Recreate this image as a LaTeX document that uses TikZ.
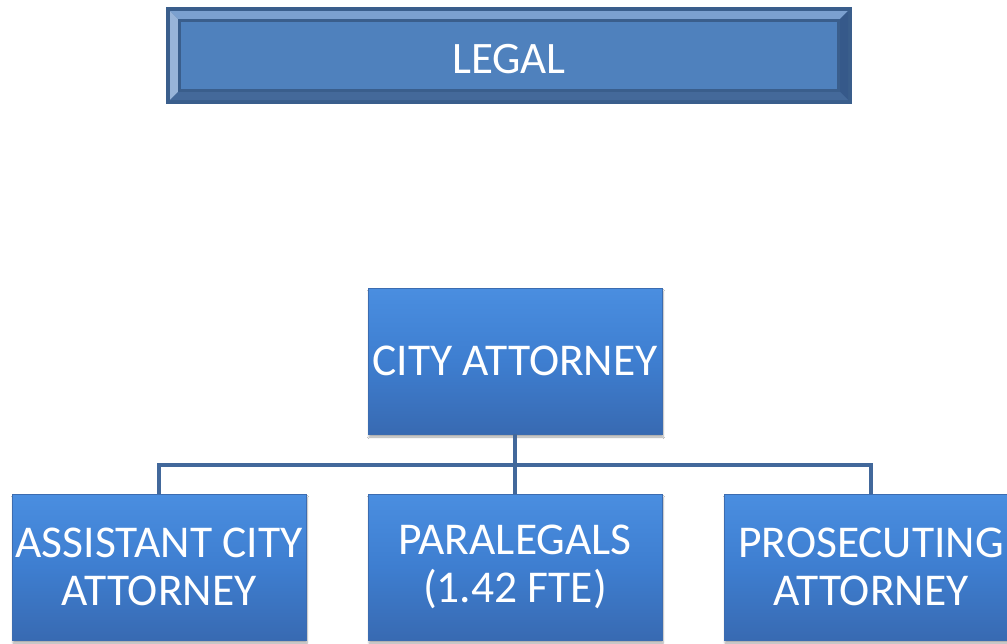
\documentclass[tikz,border=0pt]{standalone}
\usepackage{fontspec}
\setmainfont{Carlito}
\usetikzlibrary{shadows.blur}
\definecolor{bevdark}{RGB}{58,94,140}
\definecolor{bevtop}{RGB}{123,160,207}
\definecolor{bevleft}{RGB}{152,180,217}
\definecolor{bevright}{RGB}{54,89,138}
\definecolor{bevbottom}{RGB}{68,105,154}
\definecolor{face}{RGB}{79,129,189}
\definecolor{gtop}{RGB}{74,142,224}
\definecolor{gmid}{RGB}{62,126,208}
\definecolor{gbot}{RGB}{56,106,178}
\definecolor{edge}{RGB}{60,108,176}
\definecolor{conncol}{RGB}{66,104,155}
\tikzset{
  orgbox/.style={rectangle, minimum width=294pt, minimum height=146pt, inner sep=0pt,
    top color=gtop, bottom color=gbot, middle color=gmid, draw=edge, line width=0.6pt,
    text=white, align=center, font=\fontsize{45.5}{48}\selectfont,
    blur shadow={shadow xshift=1pt, shadow yshift=-3pt, shadow opacity=35, shadow blur steps=6}},
  conn/.style={draw=conncol, line width=4pt},
  titletext/.style={text=white, font=\fontsize{45}{48}\selectfont, inner sep=0pt}
}
\begin{document}
\begin{tikzpicture}[x=1pt, y=-1pt]
  \useasboundingbox (0,0) rectangle (1007,643);
  \clip (0,0) rectangle (1007,643);
  \fill[white] (0,0) rectangle (1007,643);

  % bevelled title plate
  \fill[bevdark] (166,7) rectangle (852,104);
  \fill[bevtop] (170,11) -- (848,11) -- (840,19) -- (178,19) -- cycle;
  \fill[bevleft] (170,11) -- (178,19) -- (178,92) -- (170,100) -- cycle;
  \fill[bevright] (848,11) -- (848,100) -- (840,92) -- (840,19) -- cycle;
  \fill[bevbottom] (170,100) -- (178,92) -- (840,92) -- (848,100) -- cycle;
  \fill[bevdark] (178,19) rectangle (840,92);
  \fill[face] (181,22) rectangle (837,89);
  \node[titletext] (legal) at (509,59) {LEGAL};

  % organisation chart
  \node[orgbox] (city) at (515,361) {CITY ATTORNEY};
  \node[orgbox] (asst) at (159,567) {ASSISTANT CITY\\ATTORNEY};
  \node[orgbox] (para) at (515,567) {PARALEGALS\\(1.42 FTE)};
  \node[orgbox] (pros) at (871,567) {PROSECUTING\\ATTORNEY};

  \coordinate (bus) at (515,465);
  \draw[conn] (asst.north) |- (bus) -| (pros.north);
  \draw[conn] (city.south) -- (para.north);
\end{tikzpicture}
\end{document}
